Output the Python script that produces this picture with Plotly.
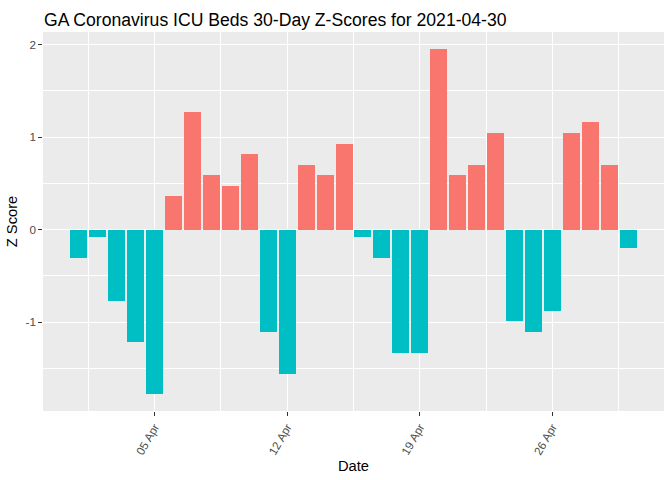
import pandas as pd
import plotly.graph_objects as go

dates = pd.date_range("2021-04-01", "2021-04-30", freq="D")
z_scores = [
    -0.31, -0.083, -0.766, -1.21, -1.773,
    0.368, 1.268, 0.596, 0.477, 0.813,
    -1.10, -1.557, 0.704, 0.596, 0.93,
    -0.083, -0.31, -1.333, -1.333, 1.95,
    0.596, 0.704, 1.04, -0.986, -1.105,
    -0.877, 1.04, 1.159, 0.704, -0.195,
]
tick_dates = ["2021-04-05", "2021-04-12", "2021-04-19", "2021-04-26"]
tick_labels = ["05 Apr", "12 Apr", "19 Apr", "26 Apr"]
minor_dates = ["2021-04-01 12:00", "2021-04-08 12:00", "2021-04-15 12:00",
               "2021-04-22 12:00", "2021-04-29 12:00"]
y_ticks = [-1, 0, 1, 2]
y_tick_labels = ["-1", "0", "1", "2"]
y_minor = [-1.5, -0.5, 0.5, 1.5]
title_text = "GA Coronavirus ICU Beds 30-Day Z-Scores for 2021-04-30"

POS, NEG = "#F8766D", "#00BFC4"
colors = [POS if v > 0 else NEG for v in z_scores]
day_ms = 86400000

fig = go.Figure(go.Bar(
    x=dates, y=z_scores, width=0.9 * day_ms,
    marker=dict(color=colors, line=dict(width=0)),
    showlegend=False,
))

FONT = "Liberation Sans, Arial, sans-serif"
fig.update_layout(
    width=672, height=480,
    margin=dict(l=43, r=8, t=32, b=69),
    paper_bgcolor="white", plot_bgcolor="#EBEBEB",
    font=dict(family=FONT, color="black"),
    bargap=0,
    title=dict(text=title_text, font=dict(size=17.6, color="black", family=FONT),
               x=44 / 672, xref="container", xanchor="left",
               y=1 - 20 / 480, yref="container", yanchor="middle"),
)
fig.update_xaxes(
    type="date",
    range=[pd.Timestamp("2021-04-01") - pd.Timedelta(days=1.895),
           pd.Timestamp("2021-04-30") + pd.Timedelta(days=1.895)],
    tickmode="array", tickvals=tick_dates, ticktext=tick_labels,
    tickangle=-60, tickfont=dict(size=11.7, color="#4D4D4D"),
    ticks="outside", ticklen=3.7, tickwidth=1.07, tickcolor="#333333",
    showgrid=True, gridcolor="white", gridwidth=1.3,
    minor=dict(tickmode="array", tickvals=minor_dates, showgrid=True,
               gridcolor="white", gridwidth=0.6, ticks=""),
    zeroline=False, showline=False, automargin=False,
    title=dict(text="Date", font=dict(size=14.7, color="black"), standoff=4),
)
fig.update_yaxes(
    range=[-1.959, 2.136],
    tickmode="array", tickvals=y_ticks, ticktext=y_tick_labels,
    tickfont=dict(size=11.7, color="#4D4D4D"),
    ticks="outside", ticklen=3.7, tickwidth=1.07, tickcolor="#333333",
    showgrid=True, gridcolor="white", gridwidth=1.3,
    minor=dict(tickmode="array", tickvals=y_minor, showgrid=True,
               gridcolor="white", gridwidth=0.6, ticks=""),
    zeroline=False, showline=False, automargin=False,
    title=dict(text="Z Score", font=dict(size=14.7, color="black"), standoff=4),
)

fig.write_html("out.html", config={"displayModeBar": False},
               post_script="document.body.style.margin='0';document.body.style.padding='0';")
